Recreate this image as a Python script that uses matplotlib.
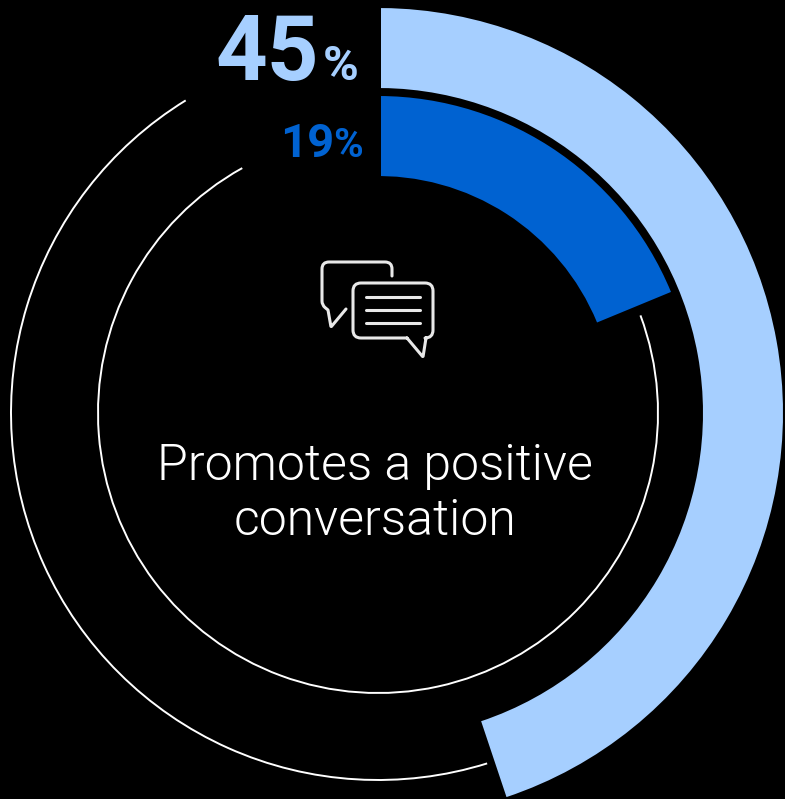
import matplotlib
matplotlib.use("Agg")
import matplotlib.pyplot as plt
from matplotlib.patches import Wedge, Arc, PathPatch, Rectangle
from matplotlib.path import Path

# data
label = ["Promotes a positive", "conversation"]
outer_pct = 45
inner_pct = 19

LIGHT = "#a6cfff"
DARK = "#0062d1"
cx, cy = 378, 413


def pct_to_deg(p):
    return p * 3.6


def bubble(ax, pts):
    # rounded polyline, third value rounds the corner at that point
    verts = [pts[0][:2]]
    codes = [Path.MOVETO]
    for i in range(1, len(pts)):
        x, y = pts[i][:2]
        rad = pts[i][2] if len(pts[i]) > 2 else 0
        if rad and i < len(pts) - 1:
            px, py = pts[i - 1][:2]
            nx, ny = pts[i + 1][:2]
            d1 = ((x - px) ** 2 + (y - py) ** 2) ** 0.5
            d2 = ((nx - x) ** 2 + (ny - y) ** 2) ** 0.5
            verts += [(x - (x - px) * rad / d1, y - (y - py) * rad / d1), (x, y),
                      (x + (nx - x) * rad / d2, y + (ny - y) * rad / d2)]
            codes += [Path.LINETO, Path.CURVE3, Path.CURVE3]
        else:
            verts.append((x, y))
            codes.append(Path.LINETO)
    ax.add_patch(PathPatch(Path(verts, codes), fill=False, ec="#e8e8e8", lw=2.2,
                           capstyle="round", joinstyle="round"))


fig = plt.figure(figsize=(7.85, 7.99), dpi=100, facecolor="black")
ax = fig.add_axes([0, 0, 1, 1])
ax.set_xlim(0, 785)
ax.set_ylim(799, 0)
ax.axis("off")

# y axis is flipped, so angles run clockwise from -90 (top)
# clip keeps the straight start edge at x=381 like the original
clip = Rectangle((381, 0), 404, 799, transform=ax.transData)
w1 = Wedge((cx, cy), 405, -92, -90 + pct_to_deg(outer_pct) - 0.5, width=80, fc=LIGHT, ec="none")
w2 = Wedge((cx, cy), 317, -92, -90 + pct_to_deg(inner_pct) - 0.85, width=80, fc=DARK, ec="none")
for w in [w1, w2]:
    ax.add_patch(w)
    w.set_clip_path(clip)

# thin rest-of-circle tracks
ax.add_patch(Arc((cx, cy), 734, 734, theta1=-90 + pct_to_deg(outer_pct) + 0.7, theta2=-90 - 31.6 + 360,
                 color="white", lw=1.4))
ax.add_patch(Arc((cx, cy), 560, 560, theta1=-90 + pct_to_deg(inner_pct) + 1.2, theta2=-90 - 29 + 360,
                 color="white", lw=1.4))

# percent labels
font = "Roboto"
ax.text(319, 80, str(outer_pct), color=LIGHT, fontsize=65, fontweight="bold", family=font, ha="right", va="baseline")
ax.text(359, 80, "%", color=LIGHT, fontsize=35, fontweight="bold", family=font, ha="right", va="baseline")
ax.text(334, 157, str(inner_pct), color=DARK, fontsize=34, fontweight="bold", family=font, ha="right", va="baseline")
ax.text(363, 157, "%", color=DARK, fontsize=29, fontweight="bold", family=font, ha="right", va="baseline")

# centre text
ax.text(375, 480, label[0], color="white", fontsize=36, fontweight=300, family="Roboto", ha="center", va="baseline")
ax.text(375, 535, label[1], color="white", fontsize=36, fontweight=300, family="Roboto", ha="center", va="baseline")

# chat icon
bubble(ax, [(392, 276), (392, 262, 7), (322, 262, 7), (322, 305, 4), (328, 310), (331, 327, 1), (346, 309)])
bubble(ax, [(407, 338), (423, 357, 1), (426, 338), (433, 338, 8), (433, 283, 8),
            (353, 283, 8), (353, 338, 8), (407, 338)])
for y in [297, 310, 323]:
    ax.plot([366, 420], [y, y], color="#e8e8e8", lw=2.2, solid_capstyle="round")

fig.savefig("out.png", dpi=100, facecolor="black")
